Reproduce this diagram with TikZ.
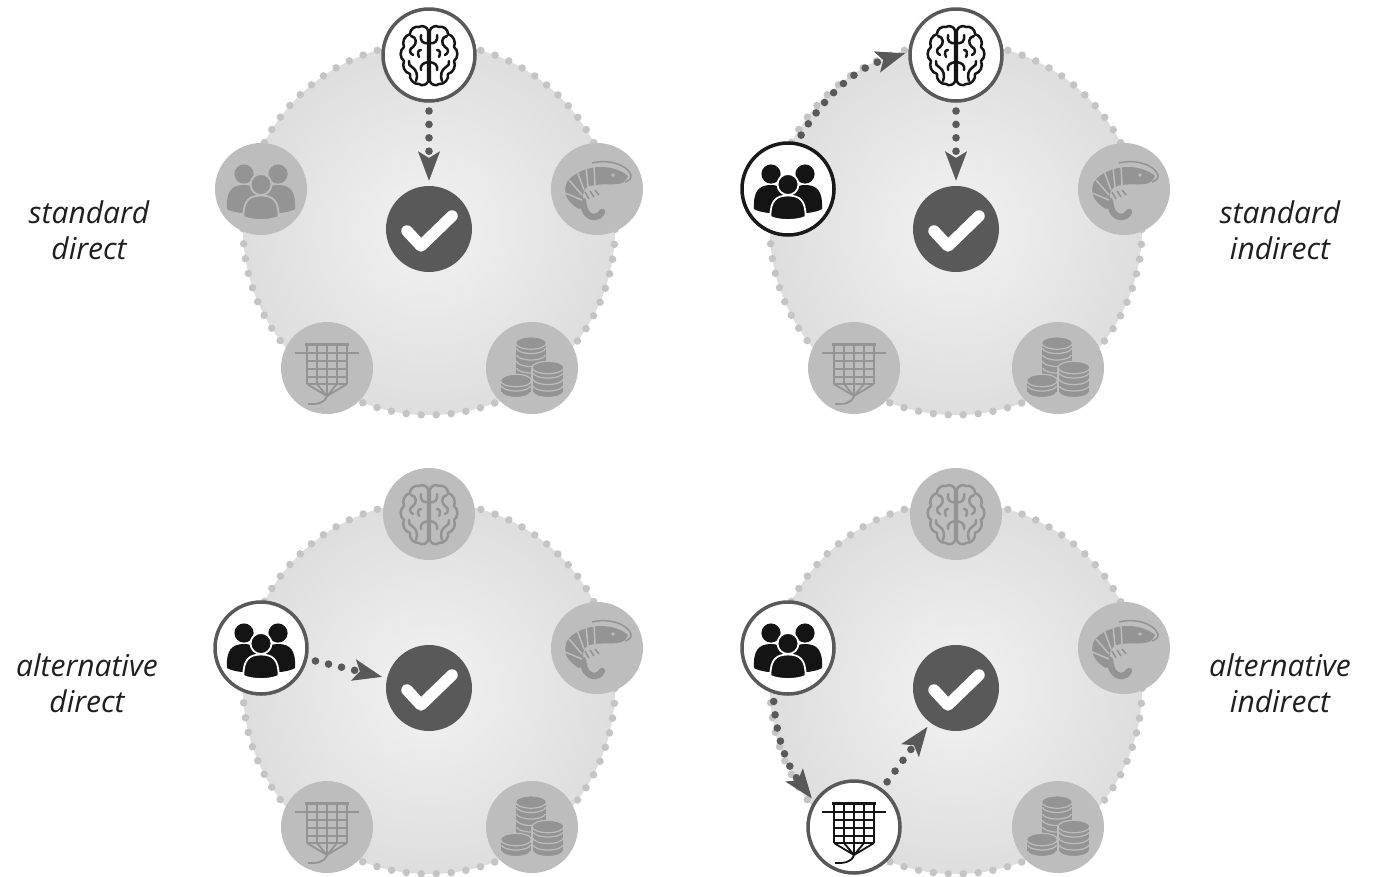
\documentclass[tikz,border=0pt]{standalone}
\usepackage{fontspec}
\setmainfont{Open Sans}
\usetikzlibrary{arrows.meta}
\definecolor{pInk}{gray}{0.35}
\definecolor{pRing}{gray}{0.77}
\colorlet{inkcol}{black}
\colorlet{gapcol}{white}
\pgfdeclareradialshading{pDiscShade}{\pgfpoint{0bp}{0bp}}{gray(0bp)=(0.95);gray(50bp)=(0.79)}
\newcommand{\pCoins}[4]{%
  \foreach \k in {1,...,#3} {
    \pgfmathsetmacro{\ky}{#2-6.5*(\k-1)}
    \filldraw[inkcol,draw=gapcol,line width=1.2pt] (#1,\ky+3) ellipse [x radius=#4,y radius=5.5];
    \fill[inkcol] (#1-#4-0.6,\ky-2) rectangle (#1+#4+0.6,\ky+3);
    \fill[inkcol] (#1,\ky-2) ellipse [x radius=#4+0.6,y radius=5.8];
  }
  \pgfmathsetmacro{\ky}{#2-6.5*(#3-1)-2}
  \draw[gapcol,line width=1.2pt] (#1,\ky) ellipse [x radius=#4+1,y radius=6.2];
  \draw[gapcol,line width=1.2pt] (#1-#4-1,\ky) -- (#1-#4-1,#2+3) (#1+#4+1,\ky) -- (#1+#4+1,#2+3);
}
\newcommand{\pIcon}[5]{%
  \node[#5] (#1) at (#2,#3) {};
  \pic[#5Ink] at (#2,#3) {#4};
}
\newcommand{\pCheck}[3]{%
  \node[pCheckDisc] (#1) at (#2,#3) {};
  \draw[pTick] (#2-22,#3+2) -- (#2-8,#3+17) -- (#2+23,#3-13);
}
\tikzset{
  pDisc/.style={circle,minimum size=372pt,inner sep=0pt,outer sep=0pt,shade,shading=pDiscShade,draw=pRing,line width=7.5pt,line cap=round,dash pattern=on 0pt off 14.98pt},
  pIdle/.style={circle,minimum size=92pt,inner sep=0pt,outer sep=0pt,fill=black!26},
  pActive/.style={circle,minimum size=92pt,inner sep=0pt,outer sep=0pt,fill=white,draw=pInk,line width=3.5pt},
  pStart/.style={pActive,draw=black!90},
  pIdleInk/.style={/utils/exec={\colorlet{inkcol}{black!42}\colorlet{gapcol}{black!26}}},
  pActiveInk/.style={/utils/exec={\colorlet{inkcol}{black!92}\colorlet{gapcol}{white}}},
  pStartInk/.style={pActiveInk},
  pCheckDisc/.style={circle,minimum size=86pt,inner sep=0pt,outer sep=0pt,fill=pInk},
  pTick/.style={white,line width=11.5pt,line cap=round,line join=round},
  pFlow/.style={pInk,line width=7.6pt,line cap=round,dash pattern=on 0pt off 13.4pt,
    -{Stealth[length=29pt,width=21pt,inset=6pt]},shorten <=10pt,shorten >=5pt},
  pLabel/.style={align=center,inner sep=0pt,text=black!88,font=\fontsize{30}{36}\selectfont\itshape},
  pics/pBrain/.style={code={
    \foreach \s in {1,-1} {
      \begin{scope}[xscale=\s,yshift=-1pt,inkcol,line width=2.5pt,line cap=round,line join=round]
      \draw (0.8,-25) to[bend left=60] (10,-29) to[bend left=55] (19,-22) to[bend left=50] (25,-9)
        to[bend left=55] (25,5) to[bend left=50] (19,18) to[bend left=55] (10,28) to[bend left=60] (0.8,25) -- cycle;
      \draw (0.8,-13) .. controls (6,-12) and (9,-15) .. (8,-21);
      \draw (18,-20) .. controls (12,-19) and (12,-12) .. (16,-9) .. controls (20,-7) and (20,-3) .. (16,-1);
      \draw (8,-6) .. controls (11,-6) and (12,-3) .. (10,1);
      \draw (0.8,6) .. controls (6,7) and (9,9) .. (8,14);
      \draw (13,25) .. controls (11,20) and (12,14) .. (17,11) .. controls (19,10) and (21,8) .. (20,5);
    \end{scope}
    }
  }},
  pics/pPeople/.style={code={
    \foreach \s in {1,-1} {
      \begin{scope}[xscale=\s]
      \fill[inkcol] (17,-15) circle (9.6pt);
      \fill[inkcol] (34,20) .. controls (35,2) and (29,-4) .. (17,-4) .. controls (6,-4) and (0,2) .. (0,22) -- (20,24) .. controls (26,23) and (31,22) .. (34,20) -- cycle;
      \end{scope}
    }
    \filldraw[inkcol,draw=gapcol,line width=1.8pt] (-17.5,28) .. controls (-18,11) and (-11,6.5) .. (0,6.5) .. controls (11,6.5) and (18,11) .. (17.5,28) .. controls (8,32) and (-8,32) .. (-17.5,28) -- cycle;
    \filldraw[inkcol,draw=gapcol,line width=1.8pt] (0,-4.5) circle (10.5pt);
  }},
  pics/pShrimp/.style={code={
    \fill[inkcol] (31,-13) .. controls (24,-19) and (14,-22) .. (4,-22) .. controls (-10,-22) and (-24,-16) .. (-30,-7)
      .. controls (-34,2) and (-32,12) .. (-18,20) -- (-12,17) .. controls (-15,10) and (-15,3) .. (-11,-1)
      .. controls (-5,-6) and (12,-4) .. (20,-5) .. controls (25,-5) and (29,-8) .. (31,-13) -- cycle;
    \draw[inkcol,line width=6.5pt,line cap=round] (-14,12) .. controls (-13,22) and (-10,28) .. (-2,28) .. controls (1,28) and (3,26) .. (5,23);
    \draw[gapcol,line width=1.5pt] (-3,-24) -- (-2,-4) (-11,-22) -- (-9,-2) (-20,-18) -- (-13,1) (-28,-9) -- (-15,6) (-32,4) -- (-15,11);
    \fill[gapcol] (16,-14) circle (1.8pt);
    \draw[inkcol,line width=1.5pt] (-5,-26) .. controls (10,-30) and (30,-25) .. (34,-14) .. controls (35,-10) and (31,-8) .. (28,-7);
    \draw[inkcol,line width=1.6pt] (-12,3) -- (-8,10) (-7,2) -- (-3,8) (-2,1) -- (2,6);
  }},
  pics/pNet/.style={code={
    \begin{scope}[inkcol,line width=1.8pt]
    \draw[line width=3pt] (-22,-24) -- (22,-24);
    \draw[line width=1.8pt] (-32,-15) -- (32,-15);
    \draw[line width=2.4pt] (-20,-24) -- (-20,16) (20,-24) -- (20,16) (-20,16) -- (20,16);
    \draw (-10,-24) -- (-10,16) (0,-24) -- (0,28) (10,-24) -- (10,16);
    \draw (-20,-7) -- (20,-7) (-20,1) -- (20,1) (-20,9) -- (20,9);
    \draw (-20,16) -- (0,28) -- (20,16) (-10,16) -- (0,28) -- (10,16);
    \draw[line width=1.8pt] (0,28) .. controls (-3,36) and (-10,36) .. (-19,36);
    \end{scope}
  }},
  pics/pCoinsIcon/.style={code={
    \pCoins{-1}{3}{5}{14.5}
    \pCoins{16}{21}{4}{15}
    \pCoins{-16}{21}{2}{14.5}
  }},
}
\begin{document}
\begin{tikzpicture}[x=1pt,y=-1pt]
\useasboundingbox (0,0) rectangle (1373,876);
\node[pDisc] (a-disc) at (429,229) {};
\node[pDisc] (b-disc) at (956,229) {};
\node[pDisc] (c-disc) at (429,688) {};
\node[pDisc] (d-disc) at (956,688) {};
\pIcon{a-brain}{429}{55}{pBrain}{pActive}
\pIcon{a-people}{261}{189}{pPeople}{pIdle}
\pIcon{a-shrimp}{597}{189}{pShrimp}{pIdle}
\pIcon{a-net}{327}{368}{pNet}{pIdle}
\pIcon{a-coins}{532}{368}{pCoinsIcon}{pIdle}
\pCheck{a-check}{429}{229}
\pIcon{b-brain}{956}{55}{pBrain}{pActive}
\pIcon{b-people}{788}{189}{pPeople}{pStart}
\pIcon{b-shrimp}{1124}{189}{pShrimp}{pIdle}
\pIcon{b-net}{854}{368}{pNet}{pIdle}
\pIcon{b-coins}{1058}{368}{pCoinsIcon}{pIdle}
\pCheck{b-check}{956}{229}
\pIcon{c-brain}{429}{514}{pBrain}{pIdle}
\pIcon{c-people}{261}{648}{pPeople}{pActive}
\pIcon{c-shrimp}{597}{648}{pShrimp}{pIdle}
\pIcon{c-net}{327}{827}{pNet}{pIdle}
\pIcon{c-coins}{532}{827}{pCoinsIcon}{pIdle}
\pCheck{c-check}{429}{688}
\pIcon{d-brain}{956}{514}{pBrain}{pIdle}
\pIcon{d-people}{788}{648}{pPeople}{pActive}
\pIcon{d-shrimp}{1124}{648}{pShrimp}{pIdle}
\pIcon{d-net}{854}{827}{pNet}{pActive}
\pIcon{d-coins}{1058}{827}{pCoinsIcon}{pIdle}
\pCheck{d-check}{956}{688}
\draw[pFlow] (a-brain) -- (a-check);
\draw[pFlow] (b-brain) -- (b-check);
\draw[pFlow] (b-people.80) to[out=59,in=197] (b-brain.176);
\draw[pFlow] (c-people) -- (c-check);
\draw[pFlow] (d-people.251) to[out=-86,in=127] (d-net.148);
\draw[pFlow] (d-net) -- (d-check);
\node[pLabel] (a-label) at (89,230) {standard\\direct};
\node[pLabel] (b-label) at (1280,230) {standard\\indirect};
\node[pLabel] (c-label) at (87,683) {alternative\\direct};
\node[pLabel] (d-label) at (1280,683) {alternative\\indirect};
\end{tikzpicture}
\end{document}
